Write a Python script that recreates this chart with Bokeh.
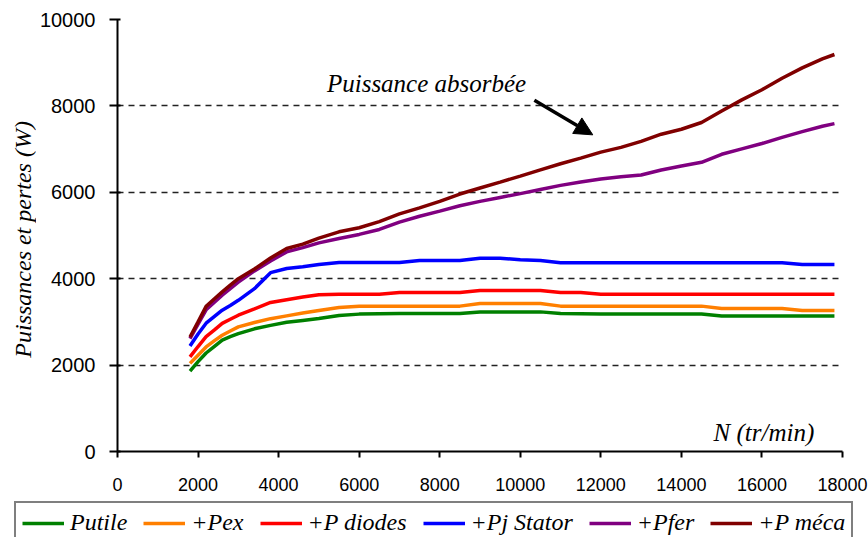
import math
from bokeh.plotting import figure
from bokeh.layouts import column, row
from bokeh.models import (Range1d, FixedTicker, Legend, LegendItem, Label, Arrow,
                          NormalHead, ColumnDataSource)
from bokeh.embed import file_html
from bokeh.resources import INLINE

# ---------------- data ----------------
speed = [1800, 2000, 2200, 2400, 2600, 2800, 3000, 3400, 3800, 4200, 4600, 5000,
         5500, 6000, 6500, 7000, 7500, 8000, 8500, 9000, 9500, 10000, 10500,
         11000, 11500, 12000, 12500, 13000, 13500, 14000, 14500, 15000, 15500,
         16000, 16500, 17000, 17500, 17800]

p_utile = [1860, 2080, 2280, 2430, 2580, 2660, 2730, 2840, 2920, 2990, 3035, 3080,
           3150, 3180, 3190, 3195, 3195, 3195, 3195, 3230, 3232, 3232, 3232,
           3195, 3190, 3185, 3185, 3185, 3185, 3185, 3185, 3135, 3135,
           3135, 3135, 3135, 3135, 3135]

p_ex = [2040, 2230, 2420, 2560, 2690, 2790, 2885, 2985, 3075, 3140, 3205, 3265,
        3335, 3365, 3365, 3365, 3365, 3365, 3365, 3425, 3425, 3425, 3425,
        3365, 3365, 3365, 3365, 3365, 3365, 3365, 3365, 3310, 3310,
        3310, 3310, 3265, 3265, 3265]

p_diodes = [2190, 2430, 2660, 2810, 2965, 3060, 3155, 3300, 3450, 3515, 3575, 3630,
            3640, 3640, 3640, 3680, 3680, 3680, 3680, 3727, 3727, 3727, 3727,
            3680, 3680, 3640, 3640, 3640, 3640, 3640, 3640, 3640, 3640,
            3640, 3640, 3640, 3640, 3640]

p_stator = [2440, 2720, 2970, 3120, 3270, 3380, 3500, 3770, 4140, 4235, 4275, 4330,
            4375, 4375, 4375, 4375, 4420, 4420, 4420, 4475, 4475, 4440, 4420,
            4370, 4370, 4370, 4370, 4370, 4370, 4370, 4370, 4370, 4370,
            4370, 4370, 4330, 4330, 4330]

p_fer = [2615, 2950, 3280, 3450, 3620, 3770, 3920, 4180, 4410, 4620, 4720, 4830,
         4930, 5025, 5140, 5310, 5445, 5565, 5690, 5790, 5880, 5970, 6065,
         6160, 6240, 6310, 6360, 6400, 6515, 6610, 6695, 6880, 7005,
         7130, 7270, 7405, 7530, 7590]

p_meca = [2650, 3000, 3360, 3530, 3695, 3850, 4000, 4225, 4480, 4700, 4800, 4940,
          5085, 5180, 5320, 5500, 5640, 5790, 5960, 6100, 6235, 6375, 6520,
          6660, 6790, 6930, 7040, 7180, 7345, 7460, 7615, 7880, 8140,
          8375, 8640, 8880, 9090, 9190]

series_names = ["Putile", "+Pex", "+P diodes", "+Pj Stator", "+Pfer", "+P méca"]
series_colors = ["#008000", "#ff7f00", "#ff0000", "#0000ff", "#800080", "#800000"]
series_values = [p_utile, p_ex, p_diodes, p_stator, p_fer, p_meca]

x_ticks = [0, 2000, 4000, 6000, 8000, 10000, 12000, 14000, 16000, 18000]
y_ticks = [0, 2000, 4000, 6000, 8000, 10000]

y_title_text = "Puissances et pertes (W)"
x_title_text = "N (tr/min)"
annot_text = "Puissance absorbée"

ITALIC = "Liberation Serif"

# ---------------- main figure ----------------
p = figure(width=832, height=501, output_backend="svg", toolbar_location=None,
           x_range=Range1d(0, 18000), y_range=Range1d(0, 10000),
           min_border_left=79, min_border_right=26, min_border_top=19,
           min_border_bottom=50)
p.outline_line_color = None
p.background_fill_color = "white"
p.border_fill_color = "white"

p.xgrid.grid_line_color = None
p.ygrid.ticker = FixedTicker(ticks=y_ticks[1:])
p.ygrid.grid_line_color = "#222222"
p.ygrid.grid_line_dash = "6 5"
p.ygrid.grid_line_width = 1.6

p.xaxis.ticker = FixedTicker(ticks=x_ticks)
p.yaxis.ticker = FixedTicker(ticks=y_ticks)
for ax in (p.xaxis[0], p.yaxis[0]):
    ax.axis_line_color = "black"
    ax.major_tick_line_color = "black"
    ax.minor_tick_line_color = None
    ax.major_label_text_font = "Liberation Sans"
    ax.major_label_text_color = "black"
p.yaxis.major_label_text_font_size = "20px"
p.xaxis.major_label_text_font_size = "18px"
p.yaxis.axis_line_width = 2
p.yaxis.major_tick_line_width = 2
p.yaxis.major_tick_out = 8
p.yaxis.major_tick_in = 3
p.yaxis.major_label_standoff = 14
p.xaxis.axis_line_width = 2
p.xaxis.major_tick_line_width = 2
p.xaxis.major_tick_out = 6
p.xaxis.major_tick_in = 0
p.xaxis.major_label_standoff = 20

src = ColumnDataSource(dict(speed=speed, **{f"s{i}": v for i, v in enumerate(series_values)}))
for i, col in enumerate(series_colors):
    p.line("speed", f"s{i}", source=src, line_color=col, line_width=3.5)

p.add_layout(Label(x=17300, y=450, text=x_title_text, text_align="right",
                   text_baseline="middle", text_font=ITALIC, text_font_style="italic",
                   text_font_size="25px", text_color="black"))
p.add_layout(Label(x=5200, y=8520, text=annot_text, text_align="left",
                   text_baseline="middle", text_font=ITALIC, text_font_style="italic",
                   text_font_size="25px", text_color="black"))
p.add_layout(Arrow(x_start=10350, y_start=8130, x_end=11800, y_end=7330,
                   line_color="black", line_width=3.5,
                   end=NormalHead(size=18, fill_color="black", line_color="black")))

# ---------------- y title strip ----------------
yf = figure(width=36, height=501, output_backend="svg", toolbar_location=None,
            x_range=Range1d(0, 36), y_range=Range1d(0, 501), min_border=0,
            x_axis_location=None, y_axis_location=None)
yf.outline_line_color = None
yf.grid.grid_line_color = None
yf.add_layout(Label(x=22, y=246, text=y_title_text, angle=math.pi / 2,
                    text_align="center", text_baseline="middle", text_font=ITALIC,
                    text_font_style="italic", text_font_size="24px", text_color="black"))

# ---------------- legend strip ----------------
lf = figure(width=868, height=36, output_backend="svg", toolbar_location=None,
            x_range=Range1d(0, 868), y_range=Range1d(0, 36), min_border=0,
            x_axis_location=None, y_axis_location=None)
lf.outline_line_color = None
lf.grid.grid_line_color = None
items = []
for i, (name, col) in enumerate(zip(series_names, series_colors)):
    # the series lie outside this strip's ranges: only their legend glyphs show
    r = lf.line("speed", f"s{i}", source=src, line_color=col, line_width=3.5)
    items.append(LegendItem(label=name, renderers=[r]))
legend = Legend(items=items, orientation="horizontal", location=(14, -7))
legend.label_text_font = ITALIC
legend.label_text_font_style = "italic"
legend.label_text_font_size = "24px"
legend.label_text_color = "black"
legend.glyph_width = 42
legend.glyph_height = 22
legend.label_standoff = 6
legend.spacing = 16
legend.padding = 6
legend.margin = 0
legend.border_line_color = "black"
legend.border_line_width = 2
legend.background_fill_color = "white"
legend.background_fill_alpha = 1
lf.add_layout(legend, "center")

layout = column(row(yf, p, spacing=0), lf, spacing=0)
open("out.html", "w").write(file_html(layout, INLINE))
